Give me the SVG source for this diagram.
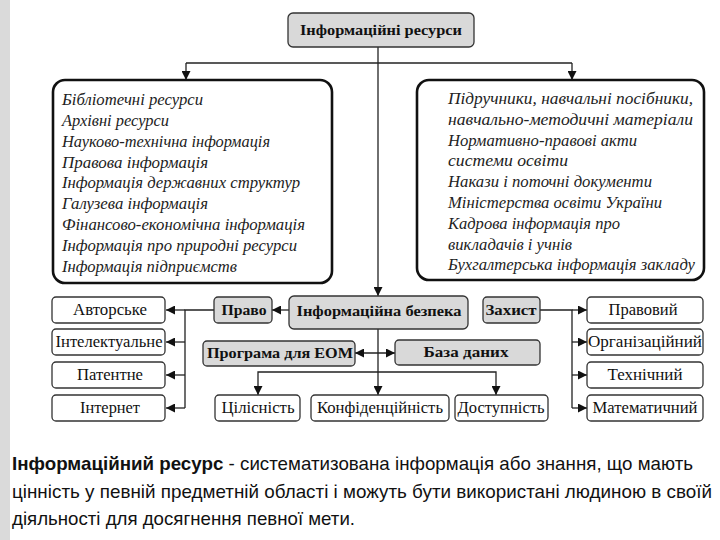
<svg xmlns="http://www.w3.org/2000/svg" width="720" height="540" viewBox="0 0 720 540">
<style>
.bg{fill:#ffffff}
.strip{fill:#dadada}
.box{fill:#ffffff;stroke:#333;stroke-width:1.3}
.gbox{fill:#d9d9d9;stroke:#333;stroke-width:1.3}
.big{fill:#ffffff;stroke:#111;stroke-width:2.6}
.lbl{font-family:"Liberation Serif",serif;font-size:16px;fill:#111;text-anchor:middle}
.b{font-weight:bold;font-size:15.5px}
.it{font-family:"Liberation Serif",serif;font-style:italic;font-size:16.5px;fill:#222}
.con{fill:none;stroke:#222;stroke-width:1.3}
.note{font-family:"Liberation Sans",sans-serif;font-size:19px;fill:#111}
</style>
<defs>
<marker id="ah" viewBox="0 0 10 10" refX="10" refY="5" markerWidth="9" markerHeight="9" markerUnits="userSpaceOnUse" orient="auto-start-reverse"><path d="M0,0 L10,5 L0,10 z" fill="#111"/></marker>
</defs>
<rect class="bg" x="0" y="0" width="720" height="540"/>
<rect class="strip" x="0" y="0" width="10" height="540"/>

<g id="connectors">
<path class="con" d="M378,47 V296" marker-end="url(#ah)"/>
<path class="con" d="M186,63 H572"/>
<path class="con" d="M186,63 V80" marker-end="url(#ah)"/>
<path class="con" d="M572,63 V80" marker-end="url(#ah)"/>
<path class="con" d="M289,310 H272" marker-end="url(#ah)"/>
<path class="con" d="M214,310 H185 V408"/>
<path class="con" d="M185,310 H166" marker-end="url(#ah)"/>
<path class="con" d="M185,342 H166" marker-end="url(#ah)"/>
<path class="con" d="M185,375 H166" marker-end="url(#ah)"/>
<path class="con" d="M185,408 H166" marker-end="url(#ah)"/>
<path class="con" d="M540,310 H572 V408"/>
<path class="con" d="M572,310 H587" marker-end="url(#ah)"/>
<path class="con" d="M572,342 H587" marker-end="url(#ah)"/>
<path class="con" d="M572,375 H587" marker-end="url(#ah)"/>
<path class="con" d="M572,408 H587" marker-end="url(#ah)"/>
<path class="con" d="M378,329 V395" marker-end="url(#ah)"/>
<path class="con" d="M355,353 H395" marker-start="url(#ah)" marker-end="url(#ah)"/>
<path class="con" d="M258,395 V372 H496 V395" marker-start="url(#ah)" marker-end="url(#ah)"/>
</g>

<g id="n-resources">
<rect class="gbox" x="288" y="13" width="186" height="34" rx="5"/>
<text class="lbl b" x="381" y="35" textLength="162" lengthAdjust="spacingAndGlyphs">Інформаційні ресурси</text>
</g>

<g id="n-left-list">
<rect class="big" x="53" y="80" width="279" height="203" rx="12"/>
<text class="it" x="62" y="105" textLength="141" lengthAdjust="spacingAndGlyphs">Бібліотечні ресурси</text>
<text class="it" x="62" y="126" textLength="107" lengthAdjust="spacingAndGlyphs">Архівні ресурси</text>
<text class="it" x="62" y="147" textLength="208" lengthAdjust="spacingAndGlyphs">Науково-технічна інформація</text>
<text class="it" x="62" y="168" textLength="146" lengthAdjust="spacingAndGlyphs">Правова інформація</text>
<text class="it" x="62" y="188" textLength="238" lengthAdjust="spacingAndGlyphs">Інформація державних структур</text>
<text class="it" x="62" y="209" textLength="146" lengthAdjust="spacingAndGlyphs">Галузева інформація</text>
<text class="it" x="62" y="230" textLength="243" lengthAdjust="spacingAndGlyphs">Фінансово-економічна інформація</text>
<text class="it" x="62" y="251" textLength="235" lengthAdjust="spacingAndGlyphs">Інформація про природні ресурси</text>
<text class="it" x="62" y="272" textLength="175" lengthAdjust="spacingAndGlyphs">Інформація підприємств</text>
</g>

<g id="n-right-list">
<rect class="big" x="417" y="80" width="287" height="200" rx="12"/>
<text class="it" x="448" y="104" textLength="245" lengthAdjust="spacingAndGlyphs">Підручники, навчальні посібники,</text>
<text class="it" x="448" y="125" textLength="245" lengthAdjust="spacingAndGlyphs">навчально-методичні матеріали</text>
<text class="it" x="448" y="146" textLength="189" lengthAdjust="spacingAndGlyphs">Нормативно-правові акти</text>
<text class="it" x="448" y="166" textLength="120" lengthAdjust="spacingAndGlyphs">системи освіти</text>
<text class="it" x="448" y="187" textLength="204" lengthAdjust="spacingAndGlyphs">Накази і поточні документи</text>
<text class="it" x="448" y="208" textLength="214" lengthAdjust="spacingAndGlyphs">Міністерства освіти України</text>
<text class="it" x="448" y="229" textLength="172" lengthAdjust="spacingAndGlyphs">Кадрова інформація про</text>
<text class="it" x="448" y="250" textLength="124" lengthAdjust="spacingAndGlyphs">викладачів і учнів</text>
<text class="it" x="448" y="270" textLength="247" lengthAdjust="spacingAndGlyphs">Бухгалтерська інформація закладу</text>
</g>

<g id="n-avtorske"><rect class="box" x="52" y="297" width="113" height="26" rx="4"/><text class="lbl" x="110" y="315" textLength="74" lengthAdjust="spacingAndGlyphs">Авторське</text></g>
<g id="n-intelekt"><rect class="box" x="52" y="329" width="113" height="26" rx="4"/><text class="lbl" x="109" y="347" textLength="107" lengthAdjust="spacingAndGlyphs">Інтелектуальне</text></g>
<g id="n-patentne"><rect class="box" x="52" y="362" width="113" height="26" rx="4"/><text class="lbl" x="110" y="380" textLength="66" lengthAdjust="spacingAndGlyphs">Патентне</text></g>
<g id="n-internet"><rect class="box" x="52" y="395" width="113" height="26" rx="4"/><text class="lbl" x="110" y="413" textLength="60" lengthAdjust="spacingAndGlyphs">Інтернет</text></g>

<g id="n-pravo"><rect class="gbox" x="214" y="297" width="58" height="26" rx="4"/><text class="lbl b" x="244" y="315" textLength="45" lengthAdjust="spacingAndGlyphs">Право</text></g>
<g id="n-bezpeka"><rect class="gbox" x="289" y="296" width="179" height="33" rx="5"/><text class="lbl b" x="379" y="316" textLength="165" lengthAdjust="spacingAndGlyphs">Інформаційна безпека</text></g>
<g id="n-zakhyst"><rect class="gbox" x="483" y="297" width="57" height="26" rx="4"/><text class="lbl b" x="511" y="315" textLength="51" lengthAdjust="spacingAndGlyphs">Захист</text></g>

<g id="n-programa"><rect class="gbox" x="203" y="341" width="152" height="25" rx="4"/><text class="lbl b" x="280" y="358" textLength="146" lengthAdjust="spacingAndGlyphs">Програма для ЕОМ</text></g>
<g id="n-baza"><rect class="gbox" x="395" y="340" width="145" height="25" rx="4"/><text class="lbl b" x="466" y="357" textLength="85" lengthAdjust="spacingAndGlyphs">База даних</text></g>

<g id="n-tsilisnist"><rect class="box" x="215" y="395" width="85" height="26" rx="4"/><text class="lbl" x="258" y="413" textLength="73" lengthAdjust="spacingAndGlyphs">Цілісність</text></g>
<g id="n-konfid"><rect class="box" x="311" y="395" width="138" height="26" rx="4"/><text class="lbl" x="380" y="413" textLength="126" lengthAdjust="spacingAndGlyphs">Конфіденційність</text></g>
<g id="n-dostup"><rect class="box" x="455" y="395" width="93" height="26" rx="4"/><text class="lbl" x="501" y="413" textLength="87" lengthAdjust="spacingAndGlyphs">Доступність</text></g>

<g id="n-pravovyi"><rect class="box" x="587" y="297" width="116" height="26" rx="4"/><text class="lbl" x="643" y="315" textLength="69" lengthAdjust="spacingAndGlyphs">Правовий</text></g>
<g id="n-organiz"><rect class="box" x="587" y="329" width="116" height="26" rx="4"/><text class="lbl" x="645" y="347" textLength="114" lengthAdjust="spacingAndGlyphs">Організаційний</text></g>
<g id="n-tekhn"><rect class="box" x="587" y="362" width="116" height="26" rx="4"/><text class="lbl" x="645" y="380" textLength="75" lengthAdjust="spacingAndGlyphs">Технічний</text></g>
<g id="n-matem"><rect class="box" x="587" y="395" width="116" height="26" rx="4"/><text class="lbl" x="645" y="413" textLength="105" lengthAdjust="spacingAndGlyphs">Математичний</text></g>

<g id="definition">
<text class="note" x="12" y="470" textLength="681" lengthAdjust="spacingAndGlyphs"><tspan font-weight="bold">Інформаційний ресурс</tspan> - систематизована інформація або знання, що мають</text>
<text class="note" x="12" y="498" textLength="700" lengthAdjust="spacingAndGlyphs">цінність у певній предметній області і можуть бути використані людиною в своїй</text>
<text class="note" x="12" y="525" textLength="343" lengthAdjust="spacingAndGlyphs">діяльності для досягнення певної мети.</text>
</g>
</svg>
